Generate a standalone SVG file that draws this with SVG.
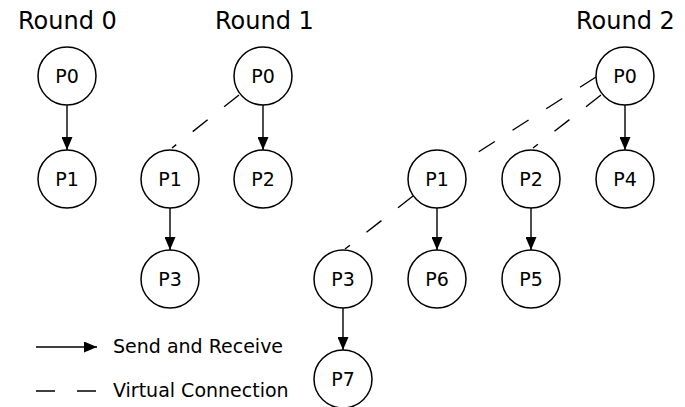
<svg xmlns="http://www.w3.org/2000/svg" width="685" height="407" viewBox="0 0 685 407">
<defs>
<marker id="ah" markerUnits="userSpaceOnUse" markerWidth="13" markerHeight="11" viewBox="0 0 13 11" refX="13" refY="5.5" orient="auto">
<path d="M0,0 L13,5.5 L0,11 z" fill="#000"/>
</marker>
</defs>
<style>
.n circle{fill:#fff;stroke:#000;stroke-width:1.5}
.n text,.lbl{font-family:"DejaVu Sans",sans-serif;fill:#000}
.n text{font-size:19px;text-anchor:middle}
.t{font-size:24px}
.lg{font-size:19px}
.a{stroke:#000;stroke-width:1.4;fill:none;marker-end:url(#ah)}
.d{stroke:#000;stroke-width:1.4;fill:none;stroke-dasharray:19 21}
</style>
<rect width="685" height="407" fill="#fff"/>
<text class="lbl t" x="18" y="29">Round 0</text>
<text class="lbl t" x="215" y="29">Round 1</text>
<text class="lbl t" x="576" y="29">Round 2</text>
<g id="connectors">
<line class="a" x1="67" y1="105" x2="67" y2="150"/>
<line class="a" x1="263" y1="105" x2="263" y2="150"/>
<line class="a" x1="170" y1="208" x2="170" y2="250"/>
<line class="a" x1="625" y1="105" x2="625" y2="150"/>
<line class="a" x1="437" y1="208" x2="437" y2="250"/>
<line class="a" x1="531" y1="208" x2="531" y2="250"/>
<line class="a" x1="343" y1="308" x2="343" y2="350"/>
<line class="d" x1="239" y1="95" x2="172" y2="148"/>
<line class="d" x1="596" y1="77" x2="458" y2="165"/>
<line class="d" x1="601" y1="95" x2="533" y2="148"/>
<line class="d" x1="413" y1="196" x2="345" y2="249"/>
</g>
<g id="r0-p0" class="n"><circle cx="67" cy="76" r="29"/><text x="67" y="83">P0</text></g>
<g id="r0-p1" class="n"><circle cx="67" cy="179" r="29"/><text x="67" y="186">P1</text></g>
<g id="r1-p0" class="n"><circle cx="263" cy="76" r="29"/><text x="263" y="83">P0</text></g>
<g id="r1-p1" class="n"><circle cx="170" cy="179" r="29"/><text x="170" y="186">P1</text></g>
<g id="r1-p2" class="n"><circle cx="263" cy="179" r="29"/><text x="263" y="186">P2</text></g>
<g id="r1-p3" class="n"><circle cx="170" cy="279" r="29"/><text x="170" y="286">P3</text></g>
<g id="r2-p0" class="n"><circle cx="625" cy="76" r="29"/><text x="625" y="83">P0</text></g>
<g id="r2-p1" class="n"><circle cx="437" cy="179" r="29"/><text x="437" y="186">P1</text></g>
<g id="r2-p2" class="n"><circle cx="531" cy="179" r="29"/><text x="531" y="186">P2</text></g>
<g id="r2-p4" class="n"><circle cx="625" cy="179" r="29"/><text x="625" y="186">P4</text></g>
<g id="r2-p3" class="n"><circle cx="343" cy="279" r="29"/><text x="343" y="286">P3</text></g>
<g id="r2-p6" class="n"><circle cx="437" cy="279" r="29"/><text x="437" y="286">P6</text></g>
<g id="r2-p5" class="n"><circle cx="531" cy="279" r="29"/><text x="531" y="286">P5</text></g>
<g id="r2-p7" class="n"><circle cx="343" cy="379" r="29"/><text x="343" y="386">P7</text></g>
<g id="legend">
<line class="a" x1="36" y1="347" x2="97" y2="347"/>
<text class="lbl lg" x="113" y="353">Send and Receive</text>
<line x1="36" y1="391" x2="97" y2="391" stroke="#000" stroke-width="1.4" stroke-dasharray="19 22"/>
<text class="lbl lg" x="113" y="397">Virtual Connection</text>
</g>
</svg>
